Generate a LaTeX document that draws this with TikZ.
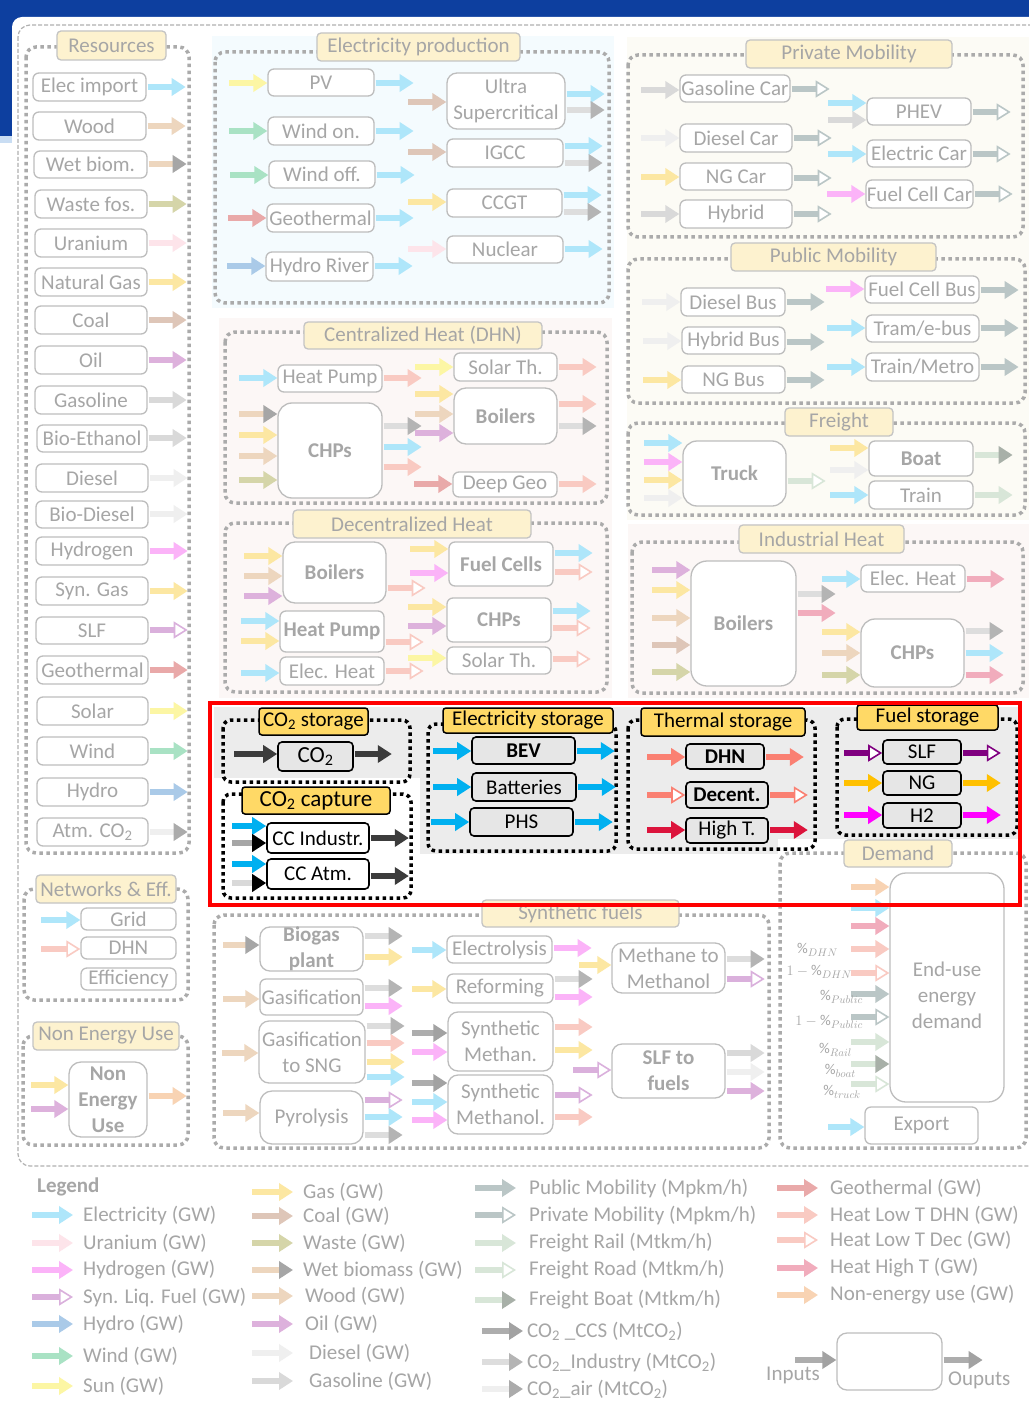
\documentclass[tikz,border=0pt]{standalone}
\usepackage{fontspec}
\setmainfont{Carlito}
\usetikzlibrary{arrows.meta,calc}
\definecolor{cBlue}{HTML}{0D3F9F}
\definecolor{cLBlue}{HTML}{C9DDF3}
\definecolor{cFrame}{HTML}{B0B0B0}
\definecolor{cDot}{HTML}{ABABAB}
\definecolor{cBox}{HTML}{BDBDBD}
\definecolor{cTxt}{HTML}{A6A6A6}
\definecolor{cTit}{HTML}{FDF2CF}
\definecolor{cTBd}{HTML}{C4C4C4}
\definecolor{cBgB}{HTML}{F4FBFE}
\definecolor{cBgP}{HTML}{FCF7F6}
\definecolor{cBgC}{HTML}{FCFBF5}
\definecolor{cGold}{HTML}{FFD966}
\definecolor{cSt}{HTML}{E6E6E6}
\definecolor{cRegion}{HTML}{ECECEC}
\definecolor{cElec}{HTML}{AEE6FA}
\definecolor{cUran}{HTML}{FDE4EA}
\definecolor{cH2}{HTML}{FBB3F8}
\definecolor{cSLF}{HTML}{DAB0DC}
\definecolor{cHydro}{HTML}{AACAE8}
\definecolor{cWind}{HTML}{A9E2C4}
\definecolor{cSun}{HTML}{FCF6A4}
\definecolor{cGas}{HTML}{FCE7A2}
\definecolor{cCoal}{HTML}{DEC6B8}
\definecolor{cWaste}{HTML}{D5D5A9}
\definecolor{cWood}{HTML}{EDD6BE}
\definecolor{cWetH}{HTML}{A6A6A6}
\definecolor{cOil}{HTML}{DDB1DC}
\definecolor{cDiesel}{HTML}{EFEFEF}
\definecolor{cGasoline}{HTML}{D9D9D9}
\definecolor{cPub}{HTML}{BAC6C6}
\definecolor{cRail}{HTML}{D8E6D8}
\definecolor{cBoatH}{HTML}{A8B0A8}
\definecolor{cCCS}{HTML}{ADADAD}
\definecolor{cCCSH}{HTML}{A2A2A2}
\definecolor{cInd}{HTML}{DDDDDD}
\definecolor{cIndH}{HTML}{B4B4B4}
\definecolor{cAir}{HTML}{EFEFEF}
\definecolor{cAirH}{HTML}{ABABAB}
\definecolor{cGeo}{HTML}{E9A9A9}
\definecolor{cDHN}{HTML}{F9CAC2}
\definecolor{cHT}{HTML}{F1ACBC}
\definecolor{cNE}{HTML}{F8D3B3}
\definecolor{kCy}{HTML}{00B0F0}
\definecolor{kDk}{HTML}{3C3C3C}
\definecolor{kGr}{HTML}{A6A6A6}
\definecolor{kLg}{HTML}{D9D9D9}
\definecolor{kSa}{HTML}{FA8072}
\definecolor{kCr}{HTML}{DC143C}
\definecolor{kPu}{HTML}{800080}
\definecolor{kGo}{HTML}{FFC000}
\definecolor{kMa}{HTML}{FF00FF}
\newcommand\myfs{\fontsize{21}{26}\selectfont}
\newcommand\myfsL{\fontsize{23}{27}\selectfont}
\newcommand\myNd[7][bx]{\node[#1,minimum width={(#4)-(#2)},minimum height={(#5)-(#3)}] (#6) at ({((#2)+(#4))/2},{((#3)+(#5))/2}) {#7};}
\newcommand\myIn[4][38]{\draw[#2] ($(#3.west |- 0,#4)+(-#1,0)$) -- (#3.west |- 0,#4);}
\newcommand\myOut[4][38]{\draw[#2] ($(#3.east |- 0,#4)+(1,0)$) -- ++(#1,0);}
\newcommand\myGrp[5][grp]{\draw[#1] (#2,#3) rectangle (#4,#5);}
\newcommand\myLeg[6][10]{\node[lt] (#3) at (#4,#5) {#6}; \draw[#2] ($(#3.west)+(-#1-41,0)$) -- ($(#3.west)+(-#1,0)$);}
\tikzset{
 arA/.style={line width=6pt,draw=#1,-{Triangle[length=14pt,width=17pt]}},
 arO/.style={line width=6pt,draw=#1,-{Triangle[length=14pt,width=17pt,fill=white,line width=1.6pt]}},
 arD/.style 2 args={line width=6pt,draw=#1,-{Triangle[length=14pt,width=17pt,color=#2]}},
 fElec/.style={arA=cElec}, fUran/.style={arA=cUran}, fH2/.style={arA=cH2},
 fSLF/.style={arO=cSLF}, fHydro/.style={arA=cHydro}, fWind/.style={arA=cWind},
 fSun/.style={arA=cSun}, fGas/.style={arA=cGas}, fCoal/.style={arA=cCoal},
 fWaste/.style={arA=cWaste}, fWet/.style={arD={cWood}{cWetH}}, fWood/.style={arA=cWood},
 fOil/.style={arA=cOil}, fDiesel/.style={arA=cDiesel}, fGasoline/.style={arA=cGasoline},
 fPub/.style={arA=cPub}, fPriv/.style={arO=cPub}, fRail/.style={arA=cRail},
 fRoad/.style={arO=cRail}, fBoat/.style={arD={cRail}{cBoatH}}, fCCS/.style={arD={cCCS}{cCCSH}},
 fInd/.style={arD={cInd}{cIndH}}, fAir/.style={arD={cAir}{cAirH}}, fGeo/.style={arA=cGeo},
 fDHN/.style={arA=cDHN}, fDec/.style={arO=cDHN}, fHT/.style={arA=cHT}, fNE/.style={arA=cNE},
 kCyan/.style={arA=kCy}, kDark/.style={arA=kDk}, kGray/.style={arD={kGr}{black}},
 kLgray/.style={arD={kLg}{black}}, kSal/.style={arA=kSa}, kSalO/.style={arO=kSa},
 kCrim/.style={arA=kCr}, kPurO/.style={arO=kPu}, kGold/.style={arA=kGo}, kMag/.style={arA=kMa},
 bx/.style={draw=cBox,line width=1.3pt,rounded corners=6pt,fill=white,text=cTxt,inner sep=0pt,align=center,font=\myfs},
 bxb/.style={bx,font=\myfs\bfseries},
 tt/.style={draw=cTBd,line width=1.3pt,rounded corners=4pt,fill=cTit,text=cTxt,inner sep=0pt,font=\myfs},
 ttk/.style={draw=black,line width=1.5pt,rounded corners=3pt,fill=cGold,text=black,inner sep=0pt,font=\myfs},
 bk/.style={draw=black,line width=1.6pt,rounded corners=4pt,fill=cSt,text=black,inner sep=0pt,align=center,font=\myfs},
 bkb/.style={bk,font=\myfs\bfseries},
 bkw/.style={bk,fill=white},
 grp/.style={draw=cDot,line width=3.5pt,dash pattern=on 3.5pt off 3.5pt,rounded corners=10pt},
 grpk/.style={draw=black,line width=3.5pt,dash pattern=on 3.5pt off 3.5pt,rounded corners=8pt},
 lt/.style={anchor=west,text=cTxt,font=\myfs,inner sep=0pt},
 pl/.style={anchor=east,text=cTxt,inner sep=0pt,font=\fontsize{15}{18}\selectfont},
}
\begin{document}
\begin{tikzpicture}[x=1pt,y=-1pt]
\useasboundingbox (0,0) rectangle (1029,1404);
% background
\fill[white] (0,0) rectangle (1029,1404);
\fill[cBlue] (0,0) rectangle (1029,30);
\fill[cBlue] (0,0) rectangle (12,136);
\fill[cLBlue] (0,136) rectangle (12,143);
\fill[white,rounded corners=10pt] (12,17) rectangle (1060,1420);
\draw[cFrame,line width=1.2pt,dash pattern=on 4pt off 2pt,rounded corners=12pt] (18,25) rectangle (1045,1166);
% group backgrounds
\fill[cBgB] (212,36) rectangle (614,308);
\fill[cBgC] (627,37) rectangle (1029,520);
\fill[cBgP] (219,318) rectangle (612,698);
\fill[cBgP] (628,524) rectangle (1029,698);
\fill[cRegion] (214,707) rectangle (420,778);
\fill[cRegion] (420,707) rectangle (778,854);
\fill[cRegion] (778,707) rectangle (1018,839);
% groups
\myGrp{26}{47}{189}{853}
\myGrp{215}{52}{609}{303}
\myGrp{628}{55}{1023}{237}
\myGrp{628}{259}{1025}{403}
\myGrp{628}{423}{1025}{515}
\myGrp{225}{332}{607}{503}
\myGrp{225}{523}{607}{692}
\myGrp{632}{542}{1023}{693}
\myGrp{24}{889}{188}{1000}
\myGrp{23}{1036}{188}{1145}
\myGrp{214}{915}{769}{1148}
\myGrp{780}{853}{1026}{1148}
\myGrp[grpk]{223}{720}{410}{782}
\myGrp[grpk]{223}{794}{411}{898}
\myGrp[grpk]{428}{724}{616}{851}
\myGrp[grpk]{628}{720}{815}{849}
\myGrp[grpk]{837}{719}{1017}{835}
% Resources
\myNd{33}{73}{146}{101}{r1}{Elec import}
\myNd{33}{112}{146}{140}{r2}{Wood}
\myNd{34}{151}{147}{178}{r3}{Wet biom.}
\myNd{35}{190}{147}{218}{r4}{Waste fos.}
\myNd{35}{229}{147}{257}{r5}{Uranium}
\myNd{35}{268}{147}{296}{r6}{Natural Gas}
\myNd{35}{306}{147}{334}{r7}{Coal}
\myNd{35}{346}{147}{374}{r8}{Oil}
\myNd{35}{386}{147}{414}{r9}{Gasoline}
\myNd{37}{425}{147}{452}{r10}{Bio-Ethanol}
\myNd{36}{464}{148}{492}{r11}{Diesel}
\myNd{36}{501}{148}{528}{r12}{Bio-Diesel}
\myNd{36}{537}{148}{565}{r13}{Hydrogen}
\myNd{36}{577}{148}{605}{r14}{Syn. Gas}
\myNd{36}{617}{148}{644}{r15}{SLF}
\myNd{37}{656}{148}{684}{r16}{Geothermal}
\myNd{37}{697}{148}{725}{r17}{Solar}
\myNd{37}{737}{148}{765}{r18}{Wind}
\myNd{37}{778}{148}{806}{r19}{Hydro}
\myNd{37}{818}{148}{846}{r20}{Atm. CO\textsubscript{2}}
\myOut{fElec}{r1}{87}
\myOut{fWood}{r2}{126}
\myOut{fWet}{r3}{164}
\myOut{fWaste}{r4}{204}
\myOut{fUran}{r5}{243}
\myOut{fGas}{r6}{282}
\myOut{fCoal}{r7}{320}
\myOut{fOil}{r8}{360}
\myOut{fGasoline}{r9}{400}
\myOut{fGasoline}{r10}{438}
\myOut{fDiesel}{r11}{478}
\myOut{fDiesel}{r12}{514}
\myOut{fH2}{r13}{551}
\myOut{fGas}{r14}{591}
\myOut{fSLF}{r15}{630}
\myOut{fGeo}{r16}{670}
\myOut{fSun}{r17}{711}
\myOut{fWind}{r18}{751}
\myOut{fHydro}{r19}{792}
\myOut{fAir}{r20}{832}
% Electricity production
\myNd{268}{69}{374}{96}{pv}{PV}
\myNd{268}{117}{374}{145}{won}{Wind on.}
\myNd{269}{161}{375}{188}{wof}{Wind off.}
\myNd{267}{204}{374}{232}{egeo}{Geothermal}
\myNd{266}{252}{373}{281}{hyr}{Hydro River}
\myNd[bx,rounded corners=10pt]{447}{73}{565}{129}{usc}{Ultra\\Supercritical}
\myNd{447}{139}{563}{167}{igcc}{IGCC}
\myNd{447}{189}{562}{217}{ccgt}{CCGT}
\myNd{447}{236}{563}{263}{nuc}{Nuclear}
\myIn{fSun}{pv}{83} \myOut{fElec}{pv}{83}
\myIn{fWind}{won}{131} \myOut{fElec}{won}{131}
\myIn{fWind}{wof}{175} \myOut{fElec}{wof}{175}
\myIn{fGeo}{egeo}{218} \myOut{fElec}{egeo}{218}
\myIn{fHydro}{hyr}{266} \myOut{fElec}{hyr}{266}
\myIn{fCoal}{usc}{102} \myOut{fElec}{usc}{94} \myOut{fInd}{usc}{110}
\myIn{fCoal}{igcc}{152} \myOut{fElec}{igcc}{146} \myOut{fInd}{igcc}{163}
\myIn{fGas}{ccgt}{202} \myOut{fElec}{ccgt}{195} \myOut{fInd}{ccgt}{212}
\myIn{fUran}{nuc}{249} \myOut{fElec}{nuc}{249}
% Centralized heat
\myNd{278}{365}{382}{392}{dhp}{Heat Pump}
\myNd[bxb,rounded corners=14pt]{278}{403}{382}{498}{dchp}{CHPs}
\myNd{454}{353}{557}{381}{dsol}{Solar Th.}
\myNd[bxb,rounded corners=12pt]{454}{388}{557}{444}{dboi}{Boilers}
\myNd{453}{472}{557}{497}{dgeo}{Deep Geo}
\myIn{fElec}{dhp}{378} \myOut{fDHN}{dhp}{378}
\myIn{fWet}{dchp}{414} \myIn{fGas}{dchp}{435} \myIn{fWood}{dchp}{456} \myIn{fWaste}{dchp}{480}
\myOut{fInd}{dchp}{426} \myOut{fElec}{dchp}{447} \myOut{fDHN}{dchp}{467}
\myIn{fSun}{dsol}{367} \myOut{fDHN}{dsol}{367}
\myIn{fGas}{dboi}{394} \myIn{fWood}{dboi}{414} \myIn{fOil}{dboi}{433}
\myOut{fDHN}{dboi}{404} \myOut{fInd}{dboi}{426}
\myIn{fGeo}{dgeo}{484} \myOut{fDHN}{dgeo}{484}
% Decentralized heat
\myNd[bxb,rounded corners=12pt]{283}{542}{386}{603}{eboi}{Boilers}
\myNd[bxb]{280}{611}{384}{652}{ehp}{Heat Pump}
\myNd{280}{657}{384}{685}{eeh}{Elec. Heat}
\myNd[bxb]{449}{542}{553}{586}{efc}{Fuel Cells}
\myNd[bxb]{447}{598}{551}{642}{echp}{CHPs}
\myNd{447}{647}{551}{674}{esol}{Solar Th.}
\myIn{fGas}{eboi}{556} \myIn{fWood}{eboi}{576} \myIn{fOil}{eboi}{596} \myOut{fDec}{eboi}{588}
\myIn{fElec}{ehp}{621} \myIn{fGas}{ehp}{641} \myOut{fDec}{ehp}{642}
\myIn{fElec}{eeh}{673} \myOut{fDec}{eeh}{671}
\myIn{fGas}{efc}{549} \myIn{fH2}{efc}{573} \myOut{fElec}{efc}{553} \myOut{fDec}{efc}{572}
\myIn{fGas}{echp}{607} \myIn{fOil}{echp}{626} \myOut{fElec}{echp}{611} \myOut{fDec}{echp}{628}
\myIn{fSun}{esol}{658} \myOut{fDec}{esol}{659}
% Private mobility
\myNd{680}{75}{790}{102}{gcar}{Gasoline Car}
\myNd{680}{124}{792}{152}{dcar}{Diesel Car}
\myNd{680}{163}{792}{190}{ngcar}{NG Car}
\myNd{680}{200}{792}{228}{hyb}{Hybrid}
\myNd{867}{98}{971}{125}{phev}{PHEV}
\myNd{867}{140}{971}{167}{ecar}{Electric Car}
\myNd{866}{180}{973}{208}{fcar}{Fuel Cell Car}
\myIn{fGasoline}{gcar}{90} \myOut{fPriv}{gcar}{89}
\myIn{fDiesel}{dcar}{138} \myOut{fPriv}{dcar}{138}
\myIn{fGas}{ngcar}{177} \myOut{fPriv}{ngcar}{178}
\myIn{fGasoline}{hyb}{214} \myOut{fPriv}{hyb}{214}
\myIn{fElec}{phev}{103} \myIn{fGasoline}{phev}{120} \myOut{fPriv}{phev}{112}
\myIn{fElec}{ecar}{154} \myOut{fPriv}{ecar}{154}
\myIn{fH2}{fcar}{194} \myOut{fPriv}{fcar}{194}
% Public mobility
\myNd{681}{288}{785}{316}{dbus}{Diesel Bus}
\myNd{682}{327}{785}{354}{hbus}{Hybrid Bus}
\myNd{682}{366}{785}{393}{ngbus}{NG Bus}
\myNd{865}{276}{979}{303}{fbus}{Fuel Cell Bus}
\myNd{866}{315}{979}{342}{tram}{Tram/e-bus}
\myNd{866}{353}{979}{381}{metro}{Train/Metro}
\myIn{fDiesel}{dbus}{302} \myOut{fPub}{dbus}{302}
\myIn{fDiesel}{hbus}{341} \myOut{fPub}{hbus}{342}
\myIn{fGas}{ngbus}{380} \myOut{fPub}{ngbus}{380}
\myIn{fH2}{fbus}{289} \myOut{fPub}{fbus}{290}
\myIn{fElec}{tram}{328} \myOut{fPub}{tram}{328}
\myIn{fElec}{metro}{367} \myOut{fPub}{metro}{367}
% Freight
\myNd[bxb,rounded corners=14pt]{683}{441}{786}{506}{truck}{Truck}
\myNd[bxb]{869}{441}{973}{476}{boat}{Boat}
\myNd{869}{481}{973}{509}{ftrain}{Train}
\myIn{fElec}{truck}{443} \myIn{fH2}{truck}{462} \myIn{fGas}{truck}{480} \myIn{fDiesel}{truck}{498}
\myOut{fRoad}{truck}{481}
\myIn{fGas}{boat}{448} \myIn{fDiesel}{boat}{470} \myOut{fBoat}{boat}{455}
\myIn{fElec}{ftrain}{495} \myOut{fRail}{ftrain}{495}
% Industrial heat
\myNd[bxb,rounded corners=16pt]{691}{561}{796}{686}{iboi}{Boilers}
\myNd{861}{565}{965}{592}{ieh}{Elec. Heat}
\myNd[bxb,rounded corners=14pt]{861}{619}{964}{687}{ichp}{CHPs}
\myIn{fOil}{iboi}{570} \myIn{fGas}{iboi}{590} \myIn{fWood}{iboi}{618} \myIn{fCoal}{iboi}{645} \myIn{fWaste}{iboi}{672}
\myOut{fInd}{iboi}{594} \myOut{fHT}{iboi}{613}
\myIn{fElec}{ieh}{579} \myOut{fHT}{ieh}{579}
\myIn{fGas}{ichp}{632} \myIn{fWood}{ichp}{653} \myIn{fWaste}{ichp}{675}
\myOut{fInd}{ichp}{631} \myOut{fElec}{ichp}{653} \myOut{fHT}{ichp}{675}
% Storage region
\myNd[bk,font=\myfsL]{278}{742}{353}{771}{co2}{CO\textsubscript{2}}
\myNd[bkw]{267}{823}{369}{853}{cci}{CC Industr.}
\myNd[bkw]{267}{859}{369}{889}{cca}{CC Atm.}
\myNd[bkb]{472}{737}{575}{764}{bev}{BEV}
\myNd[bk]{472}{773}{576}{801}{bat}{Batteries}
\myNd[bk]{470}{808}{573}{836}{phs}{PHS}
\myNd[bkb]{686}{744}{764}{769}{tdhn}{DHN}
\myNd[bkb]{686}{782}{768}{808}{tdec}{Decent.}
\myNd[bk]{686}{818}{768}{843}{tht}{High T.}
\myNd[bk]{883}{740}{961}{764}{sslf}{SLF}
\myNd[bk]{883}{771}{961}{795}{sng}{NG}
\myNd[bk]{883}{803}{961}{828}{sh2}{H2}
\myIn[43]{kDark}{co2}{754} \myOut[37]{kDark}{co2}{754}
\myIn[34]{kCyan}{cci}{826} \myIn[34]{kGray}{cci}{843} \myOut[38]{kDark}{cci}{838}
\myIn[34]{kCyan}{cca}{864} \myIn[34]{kLgray}{cca}{883} \myOut[38]{kDark}{cca}{876}
\myIn{kCyan}{bev}{751} \myOut{kCyan}{bev}{751}
\myIn{kCyan}{bat}{787} \myOut{kCyan}{bat}{787}
\myIn{kCyan}{phs}{822} \myOut{kCyan}{phs}{822}
\myIn{kSal}{tdhn}{757} \myOut{kSal}{tdhn}{757}
\myIn{kSalO}{tdec}{795} \myOut{kSalO}{tdec}{795}
\myIn{kCrim}{tht}{830} \myOut{kCrim}{tht}{830}
\myIn{kPurO}{sslf}{753} \myOut{kPurO}{sslf}{753}
\myIn{kGold}{sng}{783} \myOut{kGold}{sng}{783}
\myIn{kMag}{sh2}{815} \myOut{kMag}{sh2}{815}
% Demand
\myNd[bx,rounded corners=16pt]{890}{873}{1004}{1102}{eud}{\rule{0pt}{30pt}End-use\\energy\\demand}
\myNd{865}{1107}{978}{1144}{exp}{Export}
\myIn{fNE}{eud}{887} \myIn{fElec}{eud}{908} \myIn{fHT}{eud}{926} \myIn{fDHN}{eud}{949}
\myIn{fDec}{eud}{973} \myIn{fPub}{eud}{994} \myIn{fPriv}{eud}{1017} \myIn{fRail}{eud}{1042}
\myIn{fBoat}{eud}{1064} \myIn{fRoad}{eud}{1084}
\myIn[36]{fElec}{exp}{1127}
\node[pl] (p1) at (838,950) {$\%_{DHN}$};
\node[pl] (p2) at (852,972) {$1-\%_{DHN}$};
\node[pl] (p3) at (863,997) {$\%_{Public}$};
\node[pl] (p4) at (863,1022) {$1-\%_{Public}$};
\node[pl] (p5) at (852,1050) {$\%_{Rail}$};
\node[pl] (p6) at (856,1071) {$\%_{boat}$};
\node[pl] (p7) at (861,1092) {$\%_{truck}$};
% Synthetic fuels
\myNd[bxb,rounded corners=10pt]{260}{927}{363}{971}{bio}{Biogas\\plant}
\myNd{260}{979}{363}{1015}{gsf}{Gasification}
\myNd[bx,rounded corners=10pt]{259}{1021}{365}{1083}{gsng}{Gasification\\to SNG}
\myNd[bx,rounded corners=12pt]{260}{1091}{363}{1144}{pyr}{Pyrolysis}
\myNd{447}{936}{552}{963}{ely}{Electrolysis}
\myNd{447}{974}{553}{1003}{refo}{Reforming}
\myNd[bx,rounded corners=10pt]{448}{1012}{553}{1071}{smeth}{Synthetic\\Methan.}
\myNd[bx,rounded corners=10pt]{448}{1075}{553}{1134}{smol}{Synthetic\\Methanol.}
\myNd[bx,rounded corners=10pt]{612}{943}{725}{993}{m2m}{Methane to\\Methanol}
\myNd[bxb,rounded corners=10pt]{612}{1044}{725}{1098}{slff}{SLF to\\fuels}
\myIn[36]{fWet}{bio}{945} \myOut{fInd}{bio}{936} \myOut{fGas}{bio}{957}
\myIn[36]{fWood}{gsf}{999} \myOut{fInd}{gsf}{988} \myOut{fH2}{gsf}{1006}
\myIn[36]{fWood}{gsng}{1053} \myOut{fInd}{gsng}{1026} \myOut{fDHN}{gsng}{1043} \myOut{fGas}{gsng}{1062} \myOut{fElec}{gsng}{1077}
\myIn[36]{fWood}{pyr}{1113} \myOut{fSLF}{pyr}{1100} \myOut{fElec}{pyr}{1117} \myOut{fInd}{pyr}{1135}
\myIn[34]{fElec}{ely}{950} \myOut{fH2}{ely}{948}
\myIn[34]{fGas}{refo}{989} \myOut{fInd}{refo}{979} \myOut{fH2}{refo}{997}
\myIn[35]{fCCS}{smeth}{1033} \myIn[35]{fH2}{smeth}{1052} \myOut{fDHN}{smeth}{1027} \myOut{fGas}{smeth}{1050}
\myIn[35]{fCCS}{smol}{1083} \myIn[35]{fElec}{smol}{1102} \myIn[35]{fH2}{smol}{1120}
\myOut{fSLF}{smol}{1095} \myOut{fDHN}{smol}{1117}
\myIn[32]{fGas}{m2m}{965} \myOut{fInd}{m2m}{959} \myOut{fSLF}{m2m}{979}
\myIn[38]{fSLF}{slff}{1070} \myOut{fGasoline}{slff}{1053} \myOut{fDiesel}{slff}{1072} \myOut{fOil}{slff}{1091}
% Networks and non energy use
\myNd{81}{908}{176}{930}{grid}{Grid}
\myNd{81}{937}{176}{959}{ndhn}{DHN}
\myNd{81}{968}{176}{990}{eff}{Efficiency}
\myIn[39]{fElec}{grid}{920}
\myIn[39]{fDec}{ndhn}{949}
\myNd[bxb,rounded corners=12pt]{69}{1062}{147}{1137}{neu}{Non\\Energy\\Use}
\myIn[37]{fGas}{neu}{1085} \myIn[37]{fOil}{neu}{1109} \myOut{fNE}{neu}{1096}
% titles
\myNd[tt]{57}{31}{166}{60}{tRes}{Resources}
\myNd[tt]{317}{33}{520}{61}{tEP}{Electricity production}
\myNd[tt]{746}{40}{952}{68}{tPM}{Private Mobility}
\myNd[tt]{731}{243}{936}{271}{tPub}{Public Mobility}
\myNd[tt]{785}{408}{893}{436}{tFr}{Freight}
\myNd[tt]{304}{322}{542}{349}{tDHN}{Centralized Heat (DHN)}
\myNd[tt]{293}{510}{531}{538}{tDec}{Decentralized Heat}
\myNd[tt]{739}{525}{904}{553}{tInd}{Industrial Heat}
\myNd[tt]{36}{875}{176}{903}{tNet}{Networks \& Eff.}
\myNd[tt]{33}{1022}{179}{1050}{tNEU}{Non Energy Use}
\myNd[tt]{482}{900}{679}{927}{tSyn}{Synthetic fuels}
\myNd[tt]{844}{840}{952}{867}{tDem}{Demand}
\myNd[ttk]{259}{708}{368}{735}{tCO2s}{CO\textsubscript{2} storage}
\myNd[ttk,font=\myfsL]{242}{787}{390}{814}{tCO2c}{CO\textsubscript{2} capture}
\myNd[ttk]{443}{708}{613}{733}{tES}{Electricity storage}
\myNd[ttk]{641}{708}{805}{736}{tTS}{Thermal storage}
\myNd[ttk]{857}{705}{998}{730}{tFS}{Fuel storage}
% highlight
\draw[red,line width=4pt] (210,703) rectangle (1020,905);
% legend
\node[lt,font=\myfs\bfseries] (leg) at (37,1187) {Legend};
\myLeg{fElec}{lg1}{83}{1215}{Electricity (GW)}
\myLeg{fUran}{lg2}{83}{1243}{Uranium (GW)}
\myLeg{fH2}{lg3}{83}{1270}{Hydrogen (GW)}
\myLeg{fSLF}{lg4}{83}{1297}{Syn. Liq. Fuel (GW)}
\myLeg{fHydro}{lg5}{83}{1324}{Hydro (GW)}
\myLeg{fWind}{lg6}{83}{1356}{Wind (GW)}
\myLeg{fSun}{lg7}{83}{1386}{Sun (GW)}
\myLeg{fGas}{lg8}{303}{1192}{Gas (GW)}
\myLeg{fCoal}{lg9}{303}{1216}{Coal (GW)}
\myLeg{fWaste}{lg10}{303}{1243}{Waste (GW)}
\myLeg{fWet}{lg11}{303}{1270}{Wet biomass (GW)}
\myLeg[12]{fWood}{lg12}{305}{1296}{Wood (GW)}
\myLeg[12]{fOil}{lg13}{305}{1324}{Oil (GW)}
\myLeg[16]{fDiesel}{lg14}{309}{1353}{Diesel (GW)}
\myLeg[16]{fGasoline}{lg15}{309}{1381}{Gasoline (GW)}
\myLeg[13]{fPub}{lg16}{529}{1188}{Public Mobility (Mpkm/h)}
\myLeg[13]{fPriv}{lg17}{529}{1215}{Private Mobility (Mpkm/h)}
\myLeg[13]{fRail}{lg18}{529}{1243}{Freight Rail (Mtkm/h)}
\myLeg[13]{fRoad}{lg19}{529}{1270}{Freight Road (Mtkm/h)}
\myLeg[13]{fBoat}{lg20}{529}{1300}{Freight Boat (Mtkm/h)}
\myLeg[4]{fCCS}{lg21}{527}{1331}{CO\textsubscript{2} \_CCS (MtCO\textsubscript{2})}
\myLeg[4]{fInd}{lg22}{527}{1362}{CO\textsubscript{2}\_Industry (MtCO\textsubscript{2})}
\myLeg[4]{fAir}{lg23}{527}{1389}{CO\textsubscript{2}\_air (MtCO\textsubscript{2})}
\myLeg[12]{fGeo}{lg24}{830}{1188}{Geothermal (GW)}
\myLeg[12]{fDHN}{lg25}{830}{1215}{Heat Low T DHN (GW)}
\myLeg[12]{fDec}{lg26}{830}{1240}{Heat Low T Dec (GW)}
\myLeg[12]{fHT}{lg27}{830}{1268}{Heat High T (GW)}
\myLeg[12]{fNE}{lg28}{830}{1295}{Non-energy use (GW)}
\myNd[bx,rounded corners=10pt]{837}{1333}{942}{1390}{lex}{}
\myIn[41]{fCCS}{lex}{1360} \myOut[39]{fCCS}{lex}{1360}
\node[lt] (linp) at (766,1375) {Inputs};
\node[lt] (lout) at (948,1380) {Ouputs};
\end{tikzpicture}
\end{document}
